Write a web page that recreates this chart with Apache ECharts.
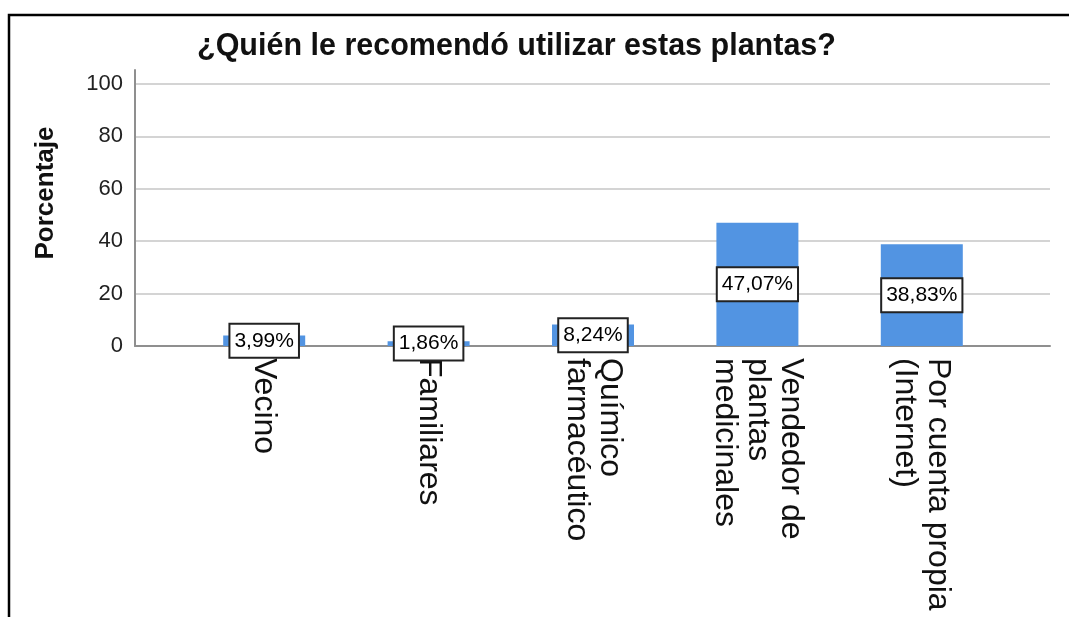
<!DOCTYPE html>
<html>
<head>
<meta charset="utf-8">
<title>¿Quién le recomendó utilizar estas plantas?</title>
<script src="https://cdn.jsdelivr.net/npm/echarts@6/dist/echarts.min.js"></script>
<style>
    html, body {margin: 0; padding: 0; background: #fff;}
    #chart-main {width: 1069px; height: 617px;}
</style>
</head>
<body>
<div id="chart-main"></div>
<script>
    var categories = ['Vecino', 'Familiares', 'Químico\nfarmacéutico', 'Vendedor de\nplantas\nmedicinales', 'Por cuenta propia\n(Internet)'];
    var percentages = [3.99, 1.86, 8.24, 47.07, 38.83];
    var yTicks = [0, 20, 40, 60, 80, 100];

    var font = "'Liberation Sans', Arial, sans-serif";
    // axis top sits a little above 100 like the original
    var yMax = 105.34;

    var option = {
        animation: false,
        backgroundColor: '#fff',
        title: {
            text: '¿Quién le recomendó utilizar estas plantas?',
            left: 192,
            top: 26,
            textStyle: {fontFamily: font, fontSize: 30.5, fontWeight: 'bold', color: '#111'}
        },
        graphic: [
            {
                type: 'rect',
                shape: {x: 9, y: 15, width: 1300, height: 900},
                style: {fill: 'none', stroke: '#000', lineWidth: 2.5},
                silent: true
            },
            {
                type: 'text',
                x: 46,
                y: 193,
                rotation: Math.PI / 2,
                style: {
                    text: 'Porcentaje',
                    fontFamily: font,
                    fontSize: 26,
                    fontWeight: 'bold',
                    fill: '#111',
                    align: 'center',
                    verticalAlign: 'middle'
                }
            }
        ],
        grid: [
            {left: 135, right: 19, top: 70, bottom: 271},
            {left: 182, right: 65, top: 70, bottom: 271}
        ],
        xAxis: [
            {
                gridIndex: 0,
                type: 'value',
                min: 0,
                max: 1,
                axisLine: {show: true, lineStyle: {color: '#8f8f8f', width: 2}},
                axisTick: {show: false},
                axisLabel: {show: false},
                splitLine: {show: false}
            },
            {
                gridIndex: 1,
                type: 'category',
                data: categories,
                axisLine: {show: false},
                axisTick: {show: false},
                axisLabel: {
                    rotate: -90,
                    margin: 12,
                    interval: 0,
                    fontFamily: font,
                    fontSize: 32,
                    lineHeight: 33,
                    color: '#111',
                    padding: [10, 0, 0, 0]
                }
            }
        ],
        yAxis: [
            {
                gridIndex: 0,
                type: 'value',
                min: yTicks[0],
                max: yMax,
                interval: yTicks[1] - yTicks[0],
                axisLine: {show: true, lineStyle: {color: '#8f8f8f', width: 2}},
                axisTick: {show: false},
                axisLabel: {
                    margin: 12,
                    showMaxLabel: false,
                    fontFamily: font,
                    fontSize: 22,
                    color: '#222',
                    formatter: function (v) {
                        return yTicks.indexOf(v) >= 0 ? String(v) : '';
                    }
                },
                splitLine: {show: true, showMaxLine: false, lineStyle: {color: '#c6c6c6', width: 1.5}}
            },
            {
                gridIndex: 1,
                type: 'value',
                min: yTicks[0],
                max: yMax,
                show: false
            }
        ],
        series: [
            {
                type: 'bar',
                xAxisIndex: 1,
                yAxisIndex: 1,
                data: percentages,
                barWidth: 82,
                itemStyle: {color: '#5294e2'},
                label: {
                    show: true,
                    position: 'inside',
                    fontFamily: font,
                    fontSize: 21,
                    color: '#000',
                    backgroundColor: '#fff',
                    borderColor: '#222',
                    borderWidth: 2,
                    padding: [6, 4, 5, 4],
                    formatter: function (p) {
                        return p.value.toFixed(2).replace('.', ',') + '%';
                    }
                }
            }
        ]
    };

    var myChart = echarts.init(document.getElementById('chart-main'));
    myChart.setOption(option);
</script>
</body>
</html>
